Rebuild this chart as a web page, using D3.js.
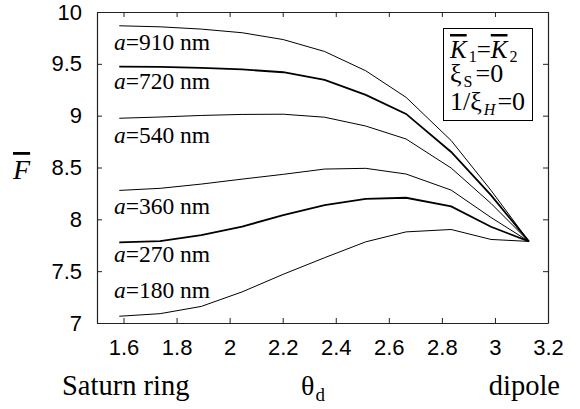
<!DOCTYPE html>
<html><head><meta charset="utf-8">
<script src="https://d3js.org/d3.v7.min.js"></script>
<style>body{margin:0;background:#fff}svg{display:block}</style>
</head><body>
<script>
const thetas = [1.584, 1.738, 1.893, 2.047, 2.202, 2.358, 2.513, 2.665, 2.835, 2.985, 3.128];
const F910 = [9.867, 9.857, 9.835, 9.800, 9.734, 9.619, 9.433, 9.177, 8.760, 8.280, 7.787];
const F720 = [9.473, 9.470, 9.461, 9.446, 9.419, 9.345, 9.200, 9.017, 8.650, 8.234, 7.787];
const F540 = [8.975, 8.987, 9.002, 9.012, 9.014, 8.985, 8.900, 8.775, 8.495, 8.154, 7.787];
const F360 = [8.279, 8.299, 8.340, 8.388, 8.434, 8.485, 8.492, 8.437, 8.282, 8.018, 7.787];
const F270 = [7.777, 7.789, 7.847, 7.930, 8.040, 8.137, 8.198, 8.208, 8.125, 7.928, 7.787];
const F180 = [7.065, 7.090, 7.160, 7.300, 7.470, 7.630, 7.783, 7.879, 7.902, 7.806, 7.787];
const seriesNames = ["910", "720", "540", "360", "270", "180"];
const seriesVals = [F910, F720, F540, F360, F270, F180];
const thick = [false, true, false, false, true, false];
const labelY = [9.635, 9.255, 8.733, 8.047, 7.584, 7.242];
const xTicks = [1.6, 1.8, 2.0, 2.2, 2.4, 2.6, 2.8, 3.0, 3.2];
const yTicks = [7, 7.5, 8, 8.5, 9, 9.5, 10];

const W = 580, H = 409;
const m = {left: 97, right: 32, top: 12, bottom: 86};
const svg = d3.select("body").append("svg").attr("width", W).attr("height", H);
const x = d3.scaleLinear().domain([1.5, 3.2]).range([m.left, W - m.right]);
const y = d3.scaleLinear().domain([7, 10]).range([H - m.bottom, m.top]);

const sans = "'Liberation Sans', Arial, sans-serif";
const serif = "'Liberation Serif', 'Times New Roman', serif";

// axes
const axB = svg.append("g").attr("transform", `translate(0,${y(7)})`)
  .call(d3.axisBottom(x).tickValues(xTicks).tickFormat(d3.format("")).tickSizeInner(-5).tickSizeOuter(0).tickPadding(16));
const axL = svg.append("g").attr("transform", `translate(${x(1.5)},0)`)
  .call(d3.axisLeft(y).tickValues(yTicks).tickFormat(d3.format("")).tickSizeInner(-5).tickSizeOuter(0).tickPadding(15));
const axT = svg.append("g").attr("transform", `translate(0,${y(10)})`)
  .call(d3.axisTop(x).tickValues(xTicks).tickFormat("").tickSizeInner(-5).tickSizeOuter(0));
const axR = svg.append("g").attr("transform", `translate(${x(3.2)},0)`)
  .call(d3.axisRight(y).tickValues(yTicks).tickFormat("").tickSizeInner(-5).tickSizeOuter(0));
[axB, axL, axT, axR].forEach(a => {
  a.select(".domain").attr("stroke", "#222").attr("stroke-width", 1.2);
  a.selectAll(".tick line").attr("stroke", "#222");
  a.selectAll("text").attr("font-family", sans).attr("font-size", 22).attr("fill", "#000");
});

// lines
const line = d3.line().x((d, i) => x(thetas[i])).y(d => y(d));
seriesVals.forEach((vals, k) => {
  svg.append("path").datum(vals).attr("d", line)
    .attr("fill", "none").attr("stroke", "#000")
    .attr("stroke-width", thick[k] ? 1.8 : 1.0);
});

// series labels
seriesNames.forEach((n, k) => {
  const t = svg.append("text").attr("x", x(1.564)).attr("y", y(labelY[k]))
    .attr("font-family", serif).attr("font-size", 23.5).attr("fill", "#000");
  t.append("tspan").attr("font-style", "italic").text("a");
  t.append("tspan").text("=" + n + " nm");
});

// axis titles
svg.append("text").attr("x", 62).attr("y", 395).attr("font-family", serif).attr("font-size", 28.5).text("Saturn ring");
svg.append("text").attr("x", 560).attr("y", 395).attr("text-anchor", "end").attr("font-family", serif).attr("font-size", 28.5).text("dipole");
const th = svg.append("text").attr("x", 301).attr("y", 395).attr("font-family", serif).attr("font-size", 28);
th.append("tspan").text("θ");
th.append("tspan").attr("font-size", 19).attr("dy", 6).attr("dx", 1).text("d");
svg.append("text").attr("x", 13).attr("y", 179).attr("font-family", serif).attr("font-size", 28)
  .attr("font-style", "italic").style("text-decoration", "overline").text("F");

// legend box
svg.append("rect").attr("x", 443.5).attr("y", 28.5).attr("width", 89).attr("height", 92)
  .attr("fill", "#fff").attr("stroke", "#000").attr("stroke-width", 1);
const l1 = svg.append("text").attr("x", 450).attr("y", 58).attr("font-family", serif).attr("font-size", 25);
l1.append("tspan").style("text-decoration", "overline").attr("font-style", "italic").text("K");
l1.append("tspan").attr("font-size", 16).attr("dy", 4).attr("dx", 2).text("1");
l1.append("tspan").attr("dy", -4).text("=");
l1.append("tspan").style("text-decoration", "overline").attr("font-style", "italic").text("K");
l1.append("tspan").attr("font-size", 16).attr("dy", 4).attr("dx", 2).text("2");
const l2 = svg.append("text").attr("x", 450).attr("y", 82).attr("font-family", serif).attr("font-size", 26);
l2.append("tspan").text("ξ");
l2.append("tspan").attr("font-size", 16).attr("dy", 5).attr("dx", 2).text("S");
l2.append("tspan").attr("dy", -5).attr("dx", 3).text("=0");
const l3 = svg.append("text").attr("x", 450).attr("y", 110).attr("font-family", serif).attr("font-size", 26);
l3.append("tspan").text("1/ξ");
l3.append("tspan").attr("font-size", 16).attr("dy", 5).attr("dx", 2).attr("font-style", "italic").text("H");
l3.append("tspan").attr("dy", -5).attr("dx", 2).text("=0");
</script>
</body></html>
